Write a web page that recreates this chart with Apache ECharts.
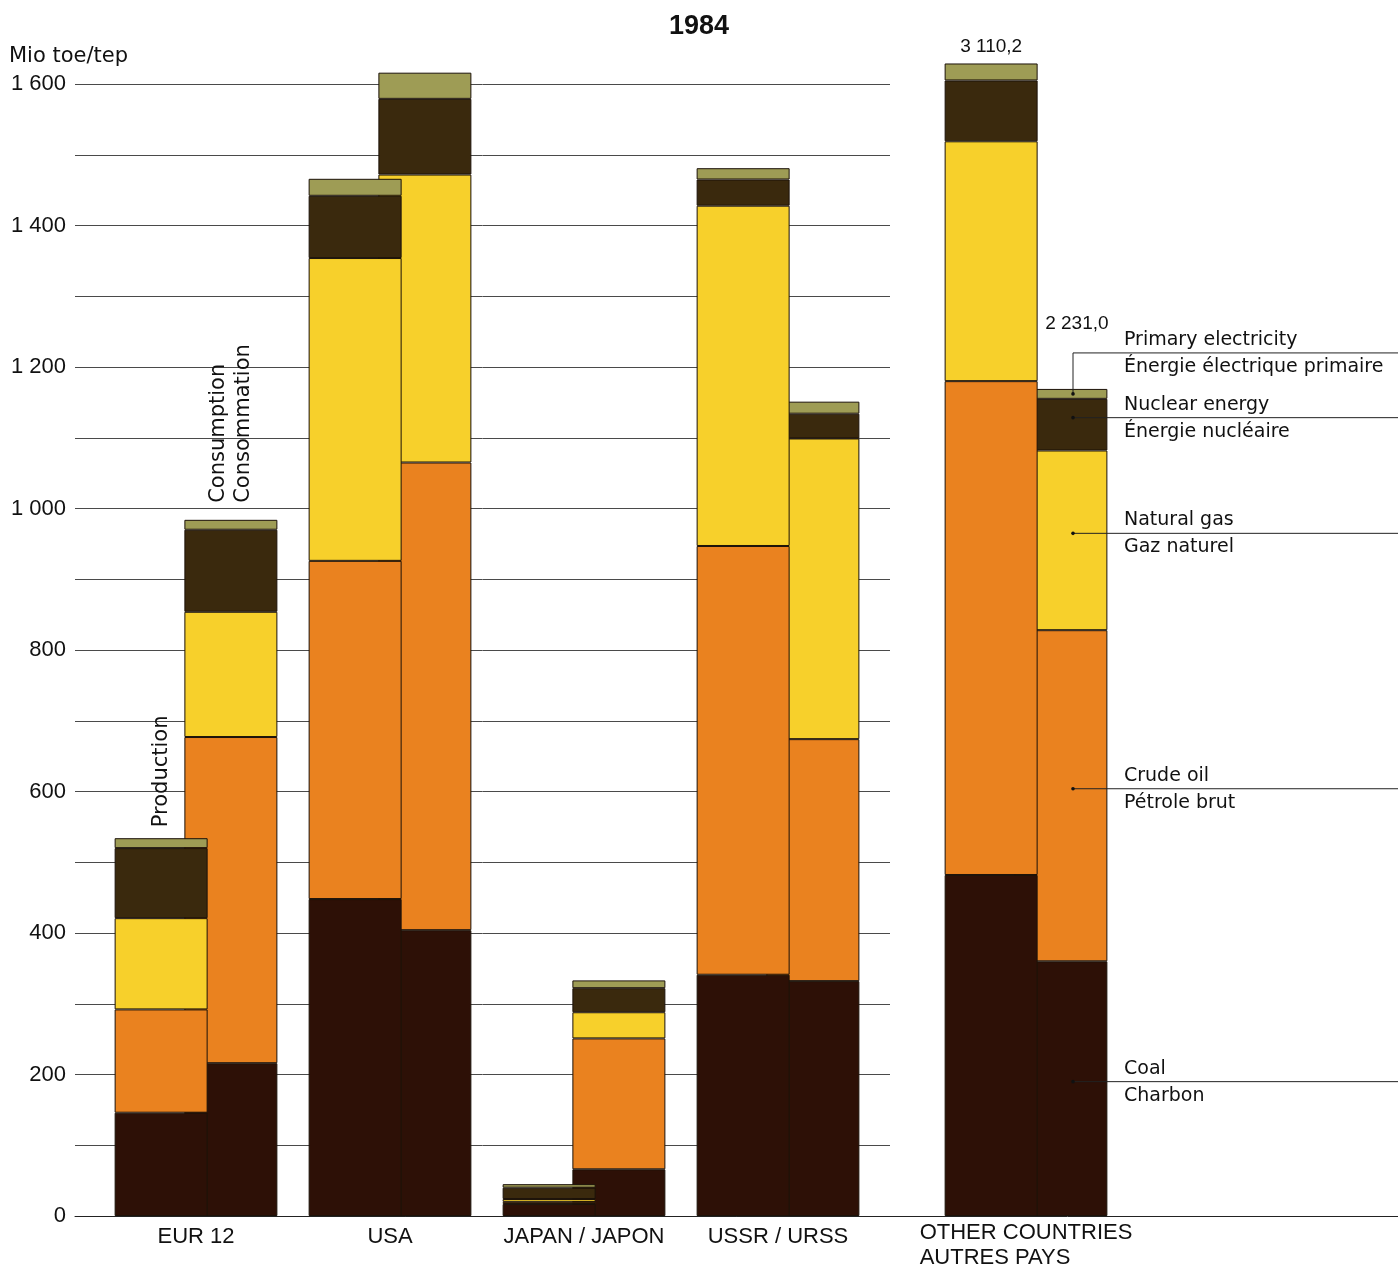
<!DOCTYPE html>
<html>
<head>
<meta charset="utf-8">
<script src="https://cdn.jsdelivr.net/npm/echarts@6/dist/echarts.min.js"></script>
<style>
html, body { margin: 0; padding: 0; background: #fff; }
#main { width: 1398px; height: 1266px; }
</style>
</head>
<body>
<div id="main"></div>
<script>
// Mio toe (EUR 12, USA, Japan, USSR)
var regions = ['EUR 12', 'USA', 'JAPAN / JAPON', 'USSR / URSS'];
var prodCoal = [146, 448, 17, 341];
var prodOil = [146, 478, 3, 606];
var prodGas = [129, 428, 4, 481];
var prodNuclear = [99, 88, 16, 37];
var prodElec = [14, 24, 5, 16];
var consCoal = [216, 404, 66, 332];
var consOil = [461, 661, 185, 342];
var consGas = [177, 407, 37, 425];
var consNuclear = [116, 107, 34, 35];
var consElec = [14, 37, 11, 17];

// other countries: drawn at a reduced scale in the original, totals written on top
var otherRegion = ['OTHER COUNTRIES\nAUTRES PAYS'];
var otherProd = [482, 698, 339, 86, 24];   // coal, oil, gas, nuclear, primary elec
var otherCons = [360, 468, 254, 73, 14];
var otherTotals = ['3 110,2', '2 231,0'];

var fuelNames = [
    ['Coal', 'Charbon'],
    ['Crude oil', 'Pétrole brut'],
    ['Natural gas', 'Gaz naturel'],
    ['Nuclear energy', 'Énergie nucléaire'],
    ['Primary electricity', 'Énergie électrique primaire']
];
var colors = ['#2d1006', '#ea821f', '#f7d02b', '#3a290d', '#9e9c55'];

var SANS = '"Liberation Sans", Arial, sans-serif';
var DEJAVU = '"DejaVu Sans", sans-serif';

var chart = echarts.init(document.getElementById('main'));

var series = [];
function addStack(data, stack, axis, z, topLabel) {
    for (var i = 0; i < 5; i++) {
        var s = {
            type: 'bar',
            name: fuelNames[i][0],
            stack: stack + axis,
            xAxisIndex: axis,
            yAxisIndex: axis,
            data: data[i],
            barWidth: 93,
            barGap: '-25%',
            z: z,
            itemStyle: { color: colors[i], borderColor: '#1c1209', borderWidth: 1 }
        };
        if (i === 4 && topLabel) s.label = topLabel;
        series.push(s);
    }
}

addStack([prodCoal, prodOil, prodGas, prodNuclear, prodElec], 'prod', 1, 3, {
    show: true, position: 'top', rotate: 90, align: 'left', verticalAlign: 'middle',
    distance: 11, fontFamily: DEJAVU, fontSize: 21, color: '#111',
    formatter: function (p) { return p.dataIndex === 0 ? 'Production' : ''; }
});
addStack([consCoal, consOil, consGas, consNuclear, consElec], 'cons', 1, 2, {
    show: true, position: 'top', rotate: 90, align: 'left', verticalAlign: 'middle',
    distance: 17, fontFamily: DEJAVU, fontSize: 21, color: '#111', lineHeight: 25,
    formatter: function (p) { return p.dataIndex === 0 ? 'Consumption\nConsommation' : ''; }
});
addStack(otherProd.map(function (v) { return [v]; }), 'prod', 2, 3, {
    show: true, position: 'top', distance: 7, fontFamily: SANS, fontSize: 19, color: '#111',
    formatter: function () { return otherTotals[0]; }
});
addStack(otherCons.map(function (v) { return [v]; }), 'cons', 2, 2, {
    show: true, position: 'top', distance: 56, offset: [16, 0], fontFamily: SANS, fontSize: 19, color: '#111',
    formatter: function () { return otherTotals[1]; }
});

// 0 at y=1216, 1600 at y=84
var gridBottom = 50;
var pxPerUnit = 1132 / 1600;
var barTop = 1216 - 1700 * pxPerUnit;

function fmt(v) {
    if (v % 200 !== 0) return '';
    if (v >= 1000) return Math.floor(v / 1000) + ' ' + String(v % 1000).padStart(3, '0');
    return String(v);
}

var option = {
    backgroundColor: '#fff',
    animation: false,
    title: {
        text: '1984', left: 'center', top: 8,
        textStyle: { fontFamily: SANS, fontSize: 27, fontWeight: 'bold', color: '#111' }
    },
    grid: [
        { left: 75, width: 815, top: 84, bottom: gridBottom, outerBoundsMode: 'none' },
        { left: 99, width: 776, top: barTop, bottom: gridBottom, outerBoundsMode: 'none' },
        { left: 930, width: 192, top: barTop, bottom: gridBottom, outerBoundsMode: 'none' },
        { left: 75, right: 0, top: 84, bottom: gridBottom, outerBoundsMode: 'none' }
    ],
    xAxis: [
        { gridIndex: 0, type: 'value', min: 0, max: 1, show: false },
        {
            gridIndex: 1, type: 'category', data: regions,
            axisLine: { show: false }, axisTick: { show: false },
            axisLabel: { interval: 0, margin: 10, fontFamily: SANS, fontSize: 22, color: '#111' }
        },
        {
            gridIndex: 2, type: 'category', data: otherRegion,
            axisLine: { show: false }, axisTick: { show: false },
            axisLabel: {
                interval: 0, margin: 4, color: '#111',
                formatter: function (v) {
                    return v.split('\n').map(function (s) { return '{a|' + s + '}'; }).join('\n');
                },
                rich: { a: { fontFamily: SANS, fontSize: 22, color: '#111', lineHeight: 25, align: 'left' } }
            }
        },
        {
            gridIndex: 3, type: 'value', min: 0, max: 1,
            axisLine: { show: true, lineStyle: { color: '#222', width: 1 } },
            axisTick: { show: false }, axisLabel: { show: false }, splitLine: { show: false }
        }
    ],
    yAxis: [
        {
            gridIndex: 0, type: 'value', min: 0, max: 1600, interval: 100,
            axisLine: { show: false }, axisTick: { show: false },
            axisLabel: { margin: 9, fontFamily: SANS, fontSize: 22, color: '#111', formatter: fmt },
            splitLine: { show: true, lineStyle: { color: '#4a4a4a', width: 1 } }
        },
        { gridIndex: 1, type: 'value', min: 0, max: 1700, show: false },
        { gridIndex: 2, type: 'value', min: 0, max: 1700, show: false },
        { gridIndex: 3, type: 'value', min: 0, max: 1, show: false }
    ],
    series: series
};
chart.setOption(option);

// leader lines from the consumption bar of "other countries" to the right edge
var graphics = [{
    type: 'text', x: 9, y: 57, z: 100,
    style: { text: 'Mio toe/tep', font: '21px ' + DEJAVU, fill: '#111', verticalAlign: 'middle', textVerticalAlign: 'middle' }
}];
var barX = chart.convertToPixel({ xAxisIndex: 2 }, 0) + 47;
var cum = 0;
for (var i = 0; i < 5; i++) {
    var mid = chart.convertToPixel({ yAxisIndex: 2 }, cum + otherCons[i] / 2) - 7;
    cum += otherCons[i];
    var lineY = mid;
    var pts = [[barX, mid], [1398, mid]];
    if (i === 4) {
        mid += 7;
        lineY = chart.convertToPixel({ yAxisIndex: 2 }, cum) - 36;
        pts = [[barX, mid], [barX, lineY], [1398, lineY]];
    }
    graphics.push({ type: 'polyline', z: 100, shape: { points: pts }, style: { stroke: '#222', lineWidth: 1, fill: null } });
    graphics.push({ type: 'circle', z: 100, shape: { cx: barX, cy: mid, r: 1.8 }, style: { fill: '#111' } });
    graphics.push({
        type: 'text', x: 1124, y: lineY - 13, z: 100,
        style: { text: fuelNames[i][0], font: '19px ' + DEJAVU, fill: '#111', verticalAlign: 'middle', textVerticalAlign: 'middle' }
    });
    graphics.push({
        type: 'text', x: 1124, y: lineY + 14, z: 100,
        style: { text: fuelNames[i][1], font: '19px ' + DEJAVU, fill: '#111', verticalAlign: 'middle', textVerticalAlign: 'middle' }
    });
}
chart.setOption({ graphic: graphics });
</script>
</body>
</html>
